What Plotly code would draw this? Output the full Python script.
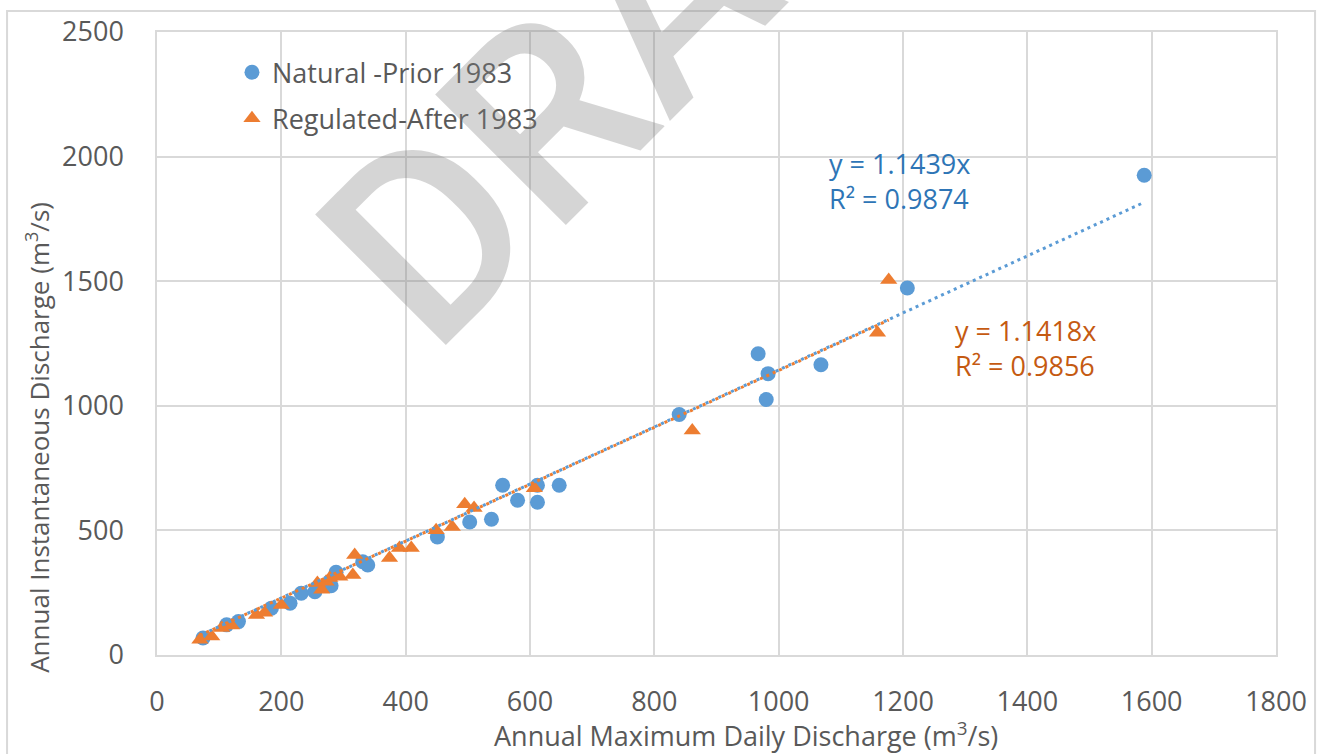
import plotly.graph_objects as go

# Annual maximum daily vs. instantaneous discharge (m3/s)
natural_x = [74, 112, 131, 184, 214, 232, 254, 280, 288, 331, 339, 451, 503, 538,
             556, 580, 612, 612, 647, 840, 967, 980, 983, 1068, 1207, 1588]
natural_y = [68, 121, 134, 188, 208, 248, 254, 278, 332, 374, 361, 474, 534, 545,
             681, 621, 681, 613, 681, 965, 1209, 1025, 1129, 1165, 1473, 1925]

regulated_x = [69, 88, 104, 120, 160, 173, 200, 258, 265, 272, 278, 294, 315, 318,
               374, 390, 409, 449, 475, 495, 510, 607, 861, 1159, 1177]
regulated_y = [61, 74, 108, 118, 161, 170, 201, 289, 262, 294, 309, 314, 321, 401,
               389, 429, 429, 501, 514, 605, 590, 669, 901, 1293, 1505]

# Zero-intercept linear trend fits
natural_slope, natural_r2 = 1.1439, 0.9874
regulated_slope, regulated_r2 = 1.1418, 0.9856

series_names = ["Natural -Prior 1983", "Regulated-After 1983"]

BLUE = "#5B9BD5"
ORANGE = "#ED7D31"
BLUE_TXT = "#2E75B6"
ORANGE_TXT = "#C55A11"
GRID = "#D9D9D9"
TEXT = "#595959"
FONT = "Open Sans"

fig = go.Figure()

fig.add_trace(go.Scatter(
    x=natural_x, y=natural_y, mode="markers", name=series_names[0],
    legendgroup="a",
    marker=dict(symbol="circle", size=15, color=BLUE),
))
fig.add_trace(go.Scatter(
    x=regulated_x, y=regulated_y, mode="markers", name=series_names[1],
    legendgroup="b",
    marker=dict(symbol="triangle-up", size=15, color=ORANGE),
))

# Trend lines drawn from the fitted slopes over each series' range
nx = [min(natural_x), max(natural_x)]
rx = [min(regulated_x), max(regulated_x)]
fig.add_trace(go.Scatter(
    x=nx, y=[natural_slope * v for v in nx], mode="lines", showlegend=False,
    line=dict(color=BLUE, width=3, dash="3px,4px"), hoverinfo="skip",
))
fig.add_trace(go.Scatter(
    x=rx, y=[regulated_slope * v for v in rx], mode="lines", showlegend=False,
    line=dict(color=ORANGE, width=3, dash="3px,4px"), hoverinfo="skip",
))

annotations = [
    dict(x=1077, y=1901, xref="x", yref="y", xanchor="left", yanchor="middle",
         align="left", showarrow=False,
         text=f"y = {natural_slope:.4f}x<br>R² = {natural_r2:.4f}",
         font=dict(family=FONT, size=27, color=BLUE_TXT)),
    dict(x=1281, y=1233, xref="x", yref="y", xanchor="left", yanchor="middle",
         align="left", showarrow=False,
         text=f"y = {regulated_slope:.4f}x<br>R² = {regulated_r2:.4f}",
         font=dict(family=FONT, size=27, color=ORANGE_TXT)),
    # axis titles
    dict(x=0.526, y=-0.127, xref="paper", yref="paper", showarrow=False,
         xanchor="center", yanchor="middle",
         text="Annual Maximum Daily Discharge (m<sup>3</sup>/s)",
         font=dict(family=FONT, size=27, color=TEXT)),
    dict(x=-0.107, y=0.349, xref="paper", yref="paper", showarrow=False,
         xanchor="center", yanchor="middle", textangle=-90,
         text="Annual Instantaneous Discharge (m<sup>3</sup>/s)",
         font=dict(family=FONT, size=26, color=TEXT)),
    # watermark
    dict(x=0.446, y=1.037, xref="paper", yref="paper", showarrow=False,
         xanchor="center", yanchor="middle", textangle=-45,
         text="DRAFT",
         font=dict(family="Roboto", size=260, weight=500,
                   color="rgba(128,128,128,0.33)")),
]

shapes = [
    dict(type="rect", xref="paper", yref="paper",
         x0=-0.134, x1=1.0349, y0=-0.2, y1=1.0336,
         line=dict(color=GRID, width=2), fillcolor="rgba(0,0,0,0)", layer="below"),
]

fig.update_layout(
    width=1326, height=754,
    margin=dict(l=157, r=50, t=30, b=99),
    paper_bgcolor="white", plot_bgcolor="white",
    font=dict(family=FONT, size=27, color=TEXT),
    showlegend=True,
    legend=dict(
        x=0.067, y=0.974, xanchor="left", yanchor="top",
        bgcolor="rgba(0,0,0,0)", font=dict(family=FONT, size=27, color=TEXT),
        traceorder="grouped", tracegroupgap=8,
    ),
    annotations=annotations,
    shapes=shapes,
)

fig.update_xaxes(
    range=[0, 1800], dtick=200, tick0=0,
    showgrid=True, gridcolor=GRID, gridwidth=1.5,
    showline=True, linecolor=GRID, linewidth=1.5, mirror=True,
    zeroline=False, ticks="", ticklabelstandoff=22,
    tickfont=dict(family=FONT, size=27, color=TEXT),
)
fig.update_yaxes(
    range=[0, 2500], dtick=500, tick0=0,
    showgrid=True, gridcolor=GRID, gridwidth=1.5,
    showline=True, linecolor=GRID, linewidth=1.5, mirror=True,
    zeroline=False, ticks="", ticklabelstandoff=26,
    tickfont=dict(family=FONT, size=27, color=TEXT),
)

fig.write_html("out.html")
